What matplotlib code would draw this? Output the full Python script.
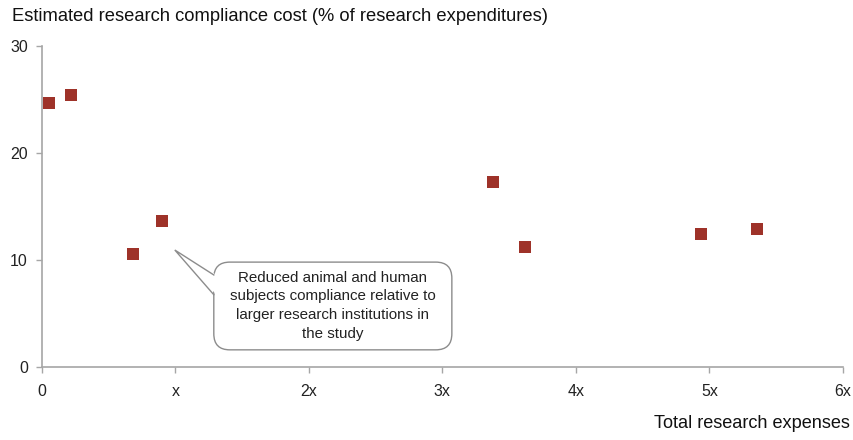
import matplotlib.pyplot as plt
from matplotlib.patches import FancyBboxPatch, Polygon

plt.rcParams['font.family'] = ['Liberation Sans', 'DejaVu Sans']

x_vals = [0.05, 0.22, 0.68, 0.90, 3.38, 3.62, 4.94, 5.36]
y_vals = [24.7, 25.4, 10.6, 13.6, 17.3, 11.2, 12.4, 12.9]
x_ticks = [0, 1, 2, 3, 4, 5, 6]
x_labels = ["0", "x", "2x", "3x", "4x", "5x", "6x"]
y_ticks = [0, 10, 20, 30]

fig = plt.figure(figsize=(8.54, 4.40), dpi=100)
ax = fig.add_axes([0.049, 0.166, 0.938, 0.7295])

ax.scatter(x_vals, y_vals, marker="s", s=72, color="#9E3229", zorder=3, linewidths=0)

ax.set_xlim(0, 6)
ax.set_ylim(0, 30)
ax.set_xticks(x_ticks)
ax.set_xticklabels(x_labels)
ax.set_yticks(y_ticks)

for s in ["top", "right"]:
    ax.spines[s].set_visible(False)
for s in ["left", "bottom"]:
    ax.spines[s].set_color("#A6A6A6")
    ax.spines[s].set_linewidth(1.2)
ax.tick_params(axis="both", colors="#A6A6A6", length=4, width=1, labelsize=11.5, labelcolor="#222222")
ax.tick_params(axis="x", pad=8)
ax.tick_params(axis="y", pad=6)

fig.text(0.014, 0.962, "Estimated research compliance cost (% of research expenditures)",
         fontsize=13.2, ha="left", va="center", color="#111111")
fig.text(0.995, 0.037, "Total research expenses", fontsize=13.1, ha="right", va="center",
         color="#111111")

# callout box
edge = "#8C8C8C"
box = FancyBboxPatch((1.288, 1.6), 1.783, 8.2,
                     boxstyle="round,pad=0,rounding_size=0.12", mutation_aspect=12.5,
                     fc="white", ec=edge, lw=1, zorder=4)
ax.add_patch(box)
tip = (0.996, 10.93)
b1 = (1.288, 8.6)
b2 = (1.288, 6.75)
ax.add_patch(Polygon([tip, (b1[0] + 0.02, b1[1]), (b2[0] + 0.02, b2[1])], closed=True,
                     fc="white", ec="none", zorder=5))
ax.plot([b1[0], tip[0], b2[0]], [b1[1], tip[1], b2[1]], color=edge, lw=1, zorder=6,
        solid_joinstyle="miter")
ax.text(2.18, 5.7, "Reduced animal and human\nsubjects compliance relative to\nlarger research institutions in\nthe study",
        ha="center", va="center", fontsize=10.9, color="#222222", linespacing=1.45, zorder=7)

plt.savefig("out.png", dpi=100)
